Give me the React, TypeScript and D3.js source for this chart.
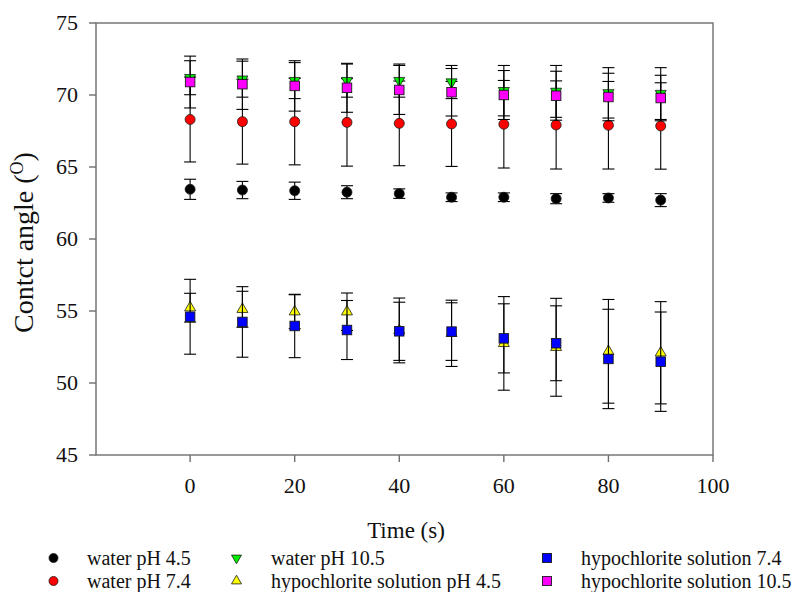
import React from "react";
import * as d3 from "d3";

const times = [0, 10, 20, 30, 40, 50, 60, 70, 80, 90];

const waterPH45 = [63.45, 63.4, 63.35, 63.25, 63.15, 62.9, 62.9, 62.8, 62.85, 62.7];
const waterPH45Err = [0.7, 0.6, 0.6, 0.45, 0.33, 0.3, 0.3, 0.35, 0.3, 0.45];

const waterPH74 = [68.3, 68.15, 68.15, 68.1, 68.03, 67.99, 67.97, 67.92, 67.9, 67.85];
const waterPH74Err = [2.95, 2.95, 3.0, 3.04, 2.94, 2.95, 3.04, 3.06, 3.04, 3.0];

const waterPH105 = [71.2, 71.1, 71.0, 71.0, 71.0, 70.9, 70.3, 70.25, 70.15, 70.1];
const waterPH105Err = [1.18, 1.25, 1.25, 1.15, 1.15, 1.15, 1.75, 1.8, 1.75, 1.8];

const hypoPH45 = [55.23, 55.12, 54.95, 54.95, 53.65, 53.45, 52.75, 52.48, 52.2, 52.1];
const hypoPH45Err = [1.0, 1.25, 1.18, 1.3, 2.25, 2.3, 3.25, 3.4, 3.6, 3.55];

const hypo74 = [54.6, 54.24, 53.96, 53.68, 53.59, 53.57, 53.1, 52.76, 51.67, 51.48];
const hypo74Err = [2.6, 2.45, 2.2, 2.05, 2.02, 2.0, 2.4, 2.6, 3.45, 3.45];

const hypo105 = [70.9, 70.75, 70.63, 70.5, 70.35, 70.19, 70.0, 69.95, 69.86, 69.79];
const hypo105Err = [1.8, 1.75, 1.75, 1.7, 1.7, 1.65, 1.7, 1.7, 1.65, 1.58];

const yTicks = [45, 50, 55, 60, 65, 70, 75];
const xTicks = [0, 20, 40, 60, 80, 100];

type Shape = "circle" | "square" | "triUp" | "triDown";

const seriesNames = [
  "water pH 4.5",
  "water pH 7.4",
  "water pH 10.5",
  "hypochlorite solution pH 4.5",
  "hypochlorite solution 7.4",
  "hypochlorite solution 10.5",
];
const seriesValues = [waterPH45, waterPH74, waterPH105, hypoPH45, hypo74, hypo105];
const seriesErrors = [waterPH45Err, waterPH74Err, waterPH105Err, hypoPH45Err, hypo74Err, hypo105Err];
const seriesColors = ["#000000", "#ff0000", "#00ee00", "#ffff00", "#0000ff", "#ff00ff"];
const seriesShapes: Shape[] = ["circle", "circle", "triDown", "triUp", "square", "square"];

const FONT = "Liberation Serif, Times New Roman, serif";
const txt = { fontFamily: FONT } as React.CSSProperties;

function Marker({ shape, x, y, size, fill }: { shape: Shape; x: number; y: number; size: number; fill: string }) {
  const stroke = "#1a1a1a";
  if (shape === "circle") {
    return <circle cx={x} cy={y} r={size / 2} fill={fill} stroke={stroke} strokeWidth={0.8} />;
  }
  if (shape === "square") {
    return <rect x={x - size / 2} y={y - size / 2} width={size} height={size} fill={fill} stroke={stroke} strokeWidth={0.9} />;
  }
  const area = (Math.sqrt(3) / 4) * size * size;
  const path = d3.symbol().type(d3.symbolTriangle).size(area)() as string;
  const rot = shape === "triDown" ? 180 : 0;
  return <path d={path} transform={`translate(${x},${y}) rotate(${rot})`} fill={fill} stroke={stroke} strokeWidth={0.8} />;
}

export default function App() {
  const W = 795;
  const H = 592;
  const left = 96, right = 713, top = 23, bottom = 455;
  const x = d3.scaleLinear().domain([-18, 100]).range([left, right]);
  const y = d3.scaleLinear().domain([45, 75]).range([bottom, top]);
  const axisColor = "#6e6e6e";
  const capHalf = 6;

  const legendCols = [
    { mx: 53.5, tx: 87 },
    { mx: 236.5, tx: 271 },
    { mx: 547, tx: 581 },
  ];
  const legendRows = [558, 581];

  return (
    <svg width={W} height={H} style={{ position: "absolute", left: 0, top: 0, background: "#fff" }}>
      {/* frame */}
      <rect x={left} y={top} width={right - left} height={bottom - top} fill="none" stroke={axisColor} strokeWidth={1.4} />
      {/* y ticks */}
      {yTicks.map((t) => (
        <g key={"y" + t}>
          <line x1={left - 7} x2={left} y1={y(t)} y2={y(t)} stroke={axisColor} strokeWidth={1.4} />
          <text x={78} y={y(t)} dy="0.34em" textAnchor="end" fontSize={22} fill="#111" style={txt}>
            {t}
          </text>
        </g>
      ))}
      {/* x ticks */}
      {xTicks.map((t) => (
        <g key={"x" + t}>
          <line x1={x(t)} x2={x(t)} y1={bottom} y2={bottom + 7} stroke={axisColor} strokeWidth={1.4} />
          <text x={x(t)} y={493} textAnchor="middle" fontSize={22} fill="#111" style={txt}>
            {t}
          </text>
        </g>
      ))}
      {/* axis titles */}
      <text x={406} y={538} textAnchor="middle" fontSize={23} fill="#111" style={txt}>
        Time (s)
      </text>
      <text transform={`translate(33,333) rotate(-90)`} textAnchor="start" fontSize={28} fill="#111" style={txt}>
        Contct angle (<tspan fontSize={18} dy={-10}>O</tspan>
        <tspan dy={10}>)</tspan>
      </text>
      {/* series */}
      {seriesValues.map((vals, si) => (
        <g key={"s" + si}>
          {vals.map((v, i) => {
            const e = seriesErrors[si][i];
            const cx = x(times[i]);
            const y1 = y(v + e);
            const y2 = y(v - e);
            return (
              <g key={i}>
                <line x1={cx} x2={cx} y1={y1} y2={y2} stroke="#000" strokeWidth={1.1} />
                <line x1={cx - capHalf} x2={cx + capHalf} y1={y1} y2={y1} stroke="#000" strokeWidth={1.1} />
                <line x1={cx - capHalf} x2={cx + capHalf} y1={y2} y2={y2} stroke="#000" strokeWidth={1.1} />
              </g>
            );
          })}
          {vals.map((v, i) => (
            <Marker key={"m" + i} shape={seriesShapes[si]} x={x(times[i])} y={y(v)} size={si <= 1 ? 10 : seriesShapes[si].startsWith("tri") ? 11 : 9.5} fill={seriesColors[si]} />
          ))}
        </g>
      ))}
      {/* legend */}
      {seriesNames.map((name, si) => {
        const col = Math.floor(si / 2);
        const row = si % 2;
        const ly = legendRows[row];
        const c = legendCols[col];
        return (
          <g key={"l" + si}>
            <Marker shape={seriesShapes[si]} x={c.mx} y={ly} size={seriesShapes[si].startsWith("tri") ? 10 : 9} fill={seriesColors[si]} />
            <text x={c.tx} y={ly} dy="0.33em" fontSize={20} fill="#111" style={txt}>
              {name}
            </text>
          </g>
        );
      })}
    </svg>
  );
}
